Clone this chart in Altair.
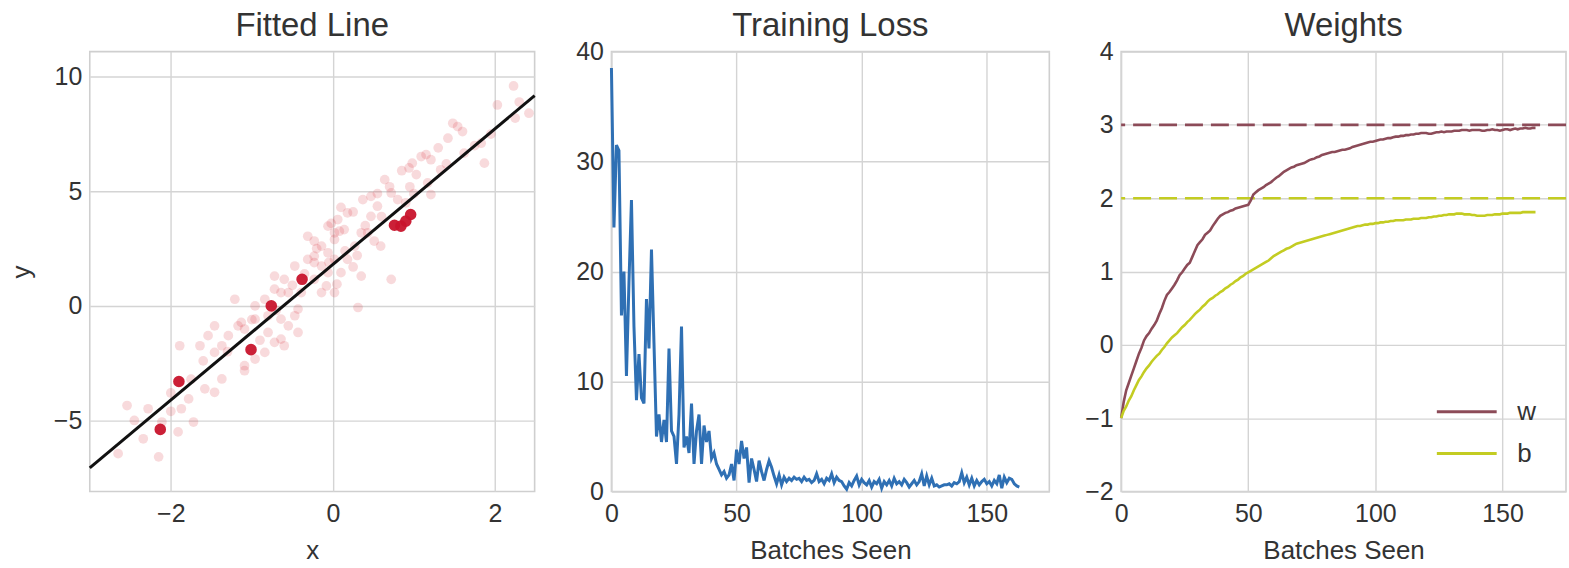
import altair as alt
import pandas as pd

FONT = "Liberation Sans"
TEXT = "#333333"
GRID = "#d4d4d4"
FRAME = "#cfcfcf"
LOSS_COLOR = "#2f70b4"
W_COLOR = "#8c4b58"
B_COLOR = "#c3cc22"

# ---------------- data ----------------
# all training samples (drawn faint)
light_x = [2.23, 2.03, 2.42, 1.54, 1.60, 1.48, 1.42, 1.87, 1.09, 0.98, 0.94, 1.03, 1.21, 1.17, 0.64,
           0.72, 0.55, 0.80, 0.90, 0.47, 0.37, 0.35, 0.14, 0.08, 0.02, -0.06, -0.14, -0.23, -0.31, -0.06,
           0.02, -0.14, 0.10, -0.06, -0.08, 0.02, -0.23, -0.14, 0.72, 0.31, 0.35, -0.47, -0.60, -0.64,
           -0.72, -0.84, -0.96, -1.21, -1.13, -1.17, -1.09, -1.46, -1.54, -1.37, -1.64, -1.89, -1.46,
           -0.80, -0.64, -0.55, -0.47, -0.80, -0.64, -0.72, -0.43, -0.96, -1.09, -1.09, -0.84, -0.60,
           -1.58, -1.46, -1.78, -1.87, -1.72, -2.28, -2.54, -2.34, -2.15, -2.65, -0.72, -0.31, -0.23,
           0.06, 0.18, 0.43, 0.51, 0.59, 0.27, 0.18, 1.21, 1.83, 1.62, 1.33, 0.47, 0.02, -0.23, -0.55,
           -0.39, -0.43, -0.96, -1.29, -1.37, -1.91, -2.11, 2.30, 2.25, 1.95, 1.75, 1.30, 1.15, 0.85,
           0.70, 0.95, 0.55, 0.25, 0.10, -0.02, 0.05, -0.05, 0.15, 0.25, 0.30, -1.60, -1.75, -2.00,
           -1.30, -0.90, -1.00, -0.35, -0.50, -0.70, -0.20, 0.40, 0.60, 1.00, 1.40, -2.45, -2.00]
light_y = [9.60, 8.77, 8.41, 7.83, 7.61, 7.97, 7.32, 6.23, 6.52, 6.23, 6.02, 5.73, 4.86, 5.37, 5.51,
           4.93, 4.35, 4.64, 4.50, 3.91, 4.64, 3.19, 3.33, 3.26, 2.90, 3.48, 2.61, 2.17, 2.03, 2.32,
           2.03, 1.74, 1.45, 1.45, 0.87, 0.58, 1.16, 0.58, 1.16, -0.07, 1.30, 1.74, 1.16, 0.58,
           0.73, 0.29, 0.00, 0.29, -0.72, -0.87, -1.01, -0.87, -1.30, -1.74, -1.74, -1.74, -2.03,
           -0.43, -0.58, -0.87, -0.43, -1.16, -1.45, -1.59, -1.16, -2.32, -2.61, -2.83, -2.03, -1.74,
           -3.62, -3.77, -4.06, -4.49, -5.07, -4.49, -4.35, -5.80, -6.59, -6.45, 1.30, 3.04, 2.83,
           3.77, 4.06, 3.19, 2.83, 2.61, 2.61, 2.03, 6.38, 7.10, 6.67, 5.94, 4.78, 3.19, 1.89, 0.58,
           0.58, -0.14, -0.58, -1.30, -3.19, -5.50, -5.07, 8.90, 8.20, 7.50, 7.00, 6.90, 6.60, 5.90,
           5.20, 5.20, 4.90, 4.10, 4.30, 3.60, 0.95, 1.90, 2.40, 1.70, 2.20, -2.40, -3.20, -3.80,
           -2.00, -1.50, -0.60, 1.40, 0.90, -0.20, 2.50, 3.50, 3.90, 4.90, 6.20, -5.00, -4.60]

# samples of the current batch (drawn solid)
batch_x = [-2.13, -1.90, -1.01, -0.76, -0.38, 0.76, 0.84, 0.90, 0.96]
batch_y = [-5.39, -3.30, -1.91, 0.00, 1.16, 3.52, 3.48, 3.70, 3.99]

# loss per batch
loss = [38.5, 24.0, 31.5, 31.0, 16.0, 20.0, 10.5, 19.0, 26.5, 15.0,
        8.3, 12.5, 8.5, 8.0, 17.5, 13.0, 22.0, 13.5, 5.0, 7.0,
        4.5, 6.5, 4.5, 13.0, 5.5, 5.0, 2.5, 7.0, 15.0, 4.0,
        5.0, 3.5, 8.0, 2.5, 5.5, 7.0, 2.5, 6.0, 4.5, 5.5,
        3.0, 3.5, 2.5, 2.0, 1.5, 1.8, 1.2, 1.5, 2.5, 1.0,
        3.8, 2.5, 4.6, 3.0, 4.0, 0.8, 3.0, 2.0, 0.9, 2.8,
        1.8, 1.0, 2.0, 2.8, 2.2, 1.4, 0.7, 1.5, 0.6, 1.3,
        0.9, 1.2, 1.0, 1.3, 1.1, 1.2, 0.9, 1.3, 1.0, 1.1,
        0.8, 1.0, 1.6, 0.9, 1.1, 0.7, 1.2, 1.0, 1.6, 0.8,
        1.3, 1.0, 0.9, 0.5, 0.2, 0.8, 0.5, 1.0, 1.4, 0.6,
        1.1, 0.8, 0.6, 1.0, 0.4, 0.9, 0.7, 1.1, 0.3, 0.9,
        0.6, 1.0, 0.5, 1.2, 0.7, 0.9, 0.6, 1.1, 0.8, 0.4,
        0.7, 1.0, 0.6, 0.9, 1.6, 0.5, 1.4, 0.6, 1.2, 0.5,
        0.6, 0.4, 0.5, 0.6, 0.6, 0.7, 0.5, 0.8, 0.7, 0.9,
        1.7, 0.8, 1.3, 0.6, 1.2, 0.5, 1.0, 0.6, 0.9, 1.1,
        0.7, 0.9, 0.5, 1.0, 0.7, 1.5, 0.3, 1.3, 0.8, 1.2,
        1.1, 0.7, 0.5, 0.4]

# parameter history per batch
w_hist = [-1.00, -0.78, -0.62, -0.52, -0.42, -0.32, -0.22, -0.12, -0.04, 0.06,
          0.12, 0.16, 0.22, 0.27, 0.33, 0.42, 0.50, 0.60, 0.68, 0.72,
          0.77, 0.82, 0.88, 0.95, 0.99, 1.04, 1.09, 1.12, 1.20, 1.28,
          1.36, 1.40, 1.44, 1.50, 1.53, 1.56, 1.62, 1.67, 1.72, 1.76,
          1.78, 1.80, 1.81, 1.83, 1.84, 1.86, 1.87, 1.88, 1.89, 1.90,
          1.91, 1.97, 2.05, 2.08, 2.11, 2.13, 2.15, 2.18, 2.20, 2.22,
          2.25, 2.28, 2.30, 2.33, 2.36, 2.38, 2.40, 2.42, 2.43, 2.45,
          2.46, 2.47, 2.48, 2.50, 2.52, 2.53, 2.54, 2.56, 2.57, 2.59,
          2.60, 2.61, 2.62, 2.63, 2.63, 2.64, 2.65, 2.66, 2.66, 2.67,
          2.68, 2.70, 2.71, 2.72, 2.73, 2.74, 2.75, 2.76, 2.77, 2.77,
          2.78, 2.79, 2.80, 2.80, 2.81, 2.82, 2.82, 2.83, 2.84, 2.84,
          2.85, 2.85, 2.86, 2.86, 2.87, 2.87, 2.88, 2.88, 2.89, 2.89,
          2.89, 2.88, 2.88, 2.89, 2.90, 2.90, 2.91, 2.90, 2.91, 2.91,
          2.91, 2.92, 2.92, 2.92, 2.93, 2.93, 2.93, 2.92, 2.93, 2.93,
          2.93, 2.93, 2.92, 2.92, 2.93, 2.93, 2.94, 2.93, 2.93, 2.92,
          2.93, 2.94, 2.94, 2.93, 2.94, 2.95, 2.94, 2.95, 2.95, 2.96,
          2.95, 2.95, 2.96, 2.96]
b_hist = [-1.00, -0.90, -0.84, -0.76, -0.70, -0.62, -0.55, -0.48, -0.43, -0.37,
          -0.32, -0.28, -0.23, -0.19, -0.15, -0.12, -0.07, -0.03, 0.02, 0.06,
          0.10, 0.13, 0.16, 0.20, 0.24, 0.27, 0.31, 0.34, 0.38, 0.42,
          0.45, 0.48, 0.52, 0.55, 0.59, 0.62, 0.64, 0.67, 0.69, 0.72,
          0.74, 0.77, 0.79, 0.82, 0.84, 0.87, 0.89, 0.92, 0.94, 0.97,
          0.99, 1.01, 1.03, 1.05, 1.07, 1.09, 1.11, 1.13, 1.15, 1.18,
          1.21, 1.23, 1.25, 1.27, 1.29, 1.31, 1.32, 1.34, 1.36, 1.38,
          1.39, 1.40, 1.41, 1.42, 1.43, 1.44, 1.45, 1.46, 1.47, 1.48,
          1.49, 1.50, 1.51, 1.52, 1.53, 1.54, 1.55, 1.56, 1.57, 1.58,
          1.59, 1.60, 1.61, 1.62, 1.62, 1.63, 1.64, 1.64, 1.65, 1.65,
          1.66, 1.66, 1.67, 1.67, 1.68, 1.68, 1.69, 1.69, 1.70, 1.70,
          1.70, 1.70, 1.71, 1.71, 1.71, 1.72, 1.72, 1.72, 1.73, 1.73,
          1.73, 1.74, 1.74, 1.75, 1.75, 1.76, 1.76, 1.77, 1.77, 1.78,
          1.78, 1.78, 1.79, 1.79, 1.79, 1.78, 1.78, 1.78, 1.77, 1.77,
          1.76, 1.76, 1.76, 1.76, 1.77, 1.77, 1.77, 1.78, 1.78, 1.78,
          1.79, 1.79, 1.79, 1.80, 1.80, 1.80, 1.80, 1.80, 1.81, 1.81,
          1.81, 1.81, 1.81, 1.81]

true_w, true_b = 3.0, 2.0
x_limits = [-3.0, 2.49]
y_limits = [-8.1, 11.1]
batch_limits = [0, 175]

# ---------------- layout ----------------
PLOT_H = 441
W1, W2, W3 = 446, 439, 446
TICK_FS, AXIS_TITLE_FS, TITLE_FS = 25, 26, 33


def title(text, offset):
    return alt.TitleParams(text=text, fontSize=TITLE_FS, font=FONT, color=TEXT, fontWeight="normal",
                           baseline="alphabetic", offset=offset, frame="group", anchor="middle")


def x_axis(values, label):
    return alt.Axis(values=values, title=label, labelFlush=False, labelPadding=10,
                    titleBaseline="alphabetic", titleY=67, format="d")


def y_axis(values, label=None):
    if label is None:
        return alt.Axis(values=values, title=None, format="d")
    return alt.Axis(values=values, title=label, format="d", titleBaseline="alphabetic",
                    titleX=-60, titleY=PLOT_H / 2)


# ---- panel 1: data and fitted line ----
xs1 = alt.Scale(domain=x_limits, nice=False, zero=False)
ys1 = alt.Scale(domain=y_limits, nice=False, zero=False)
ax1x = x_axis([-2, 0, 2], "x")
ax1y = y_axis([-5, 0, 5, 10], "y")

light_df = pd.DataFrame({"x": light_x, "y": light_y})
batch_df = pd.DataFrame({"x": batch_x, "y": batch_y})
fit_df = pd.DataFrame({"x": x_limits,
                       "y": [w_hist[-1] * v + b_hist[-1] for v in x_limits]})

enc1 = dict(x=alt.X("x:Q", scale=xs1, axis=ax1x), y=alt.Y("y:Q", scale=ys1, axis=ax1y))
p1 = alt.layer(
    alt.Chart(light_df).mark_circle(size=95, color="#d8232f", opacity=0.17).encode(**enc1),
    alt.Chart(batch_df).mark_circle(size=135, color="#c8142c", opacity=0.95).encode(**enc1),
    alt.Chart(fit_df).mark_line(color="#111111", strokeWidth=3).encode(**enc1),
).properties(width=W1, height=PLOT_H, title=title("Fitted Line", -17))

# ---- panel 2: training loss ----
loss_df = pd.DataFrame({"batch": list(range(len(loss))), "loss": loss})
p2 = alt.Chart(loss_df).mark_line(color=LOSS_COLOR, strokeWidth=3).encode(
    x=alt.X("batch:Q", scale=alt.Scale(domain=batch_limits, nice=False, zero=False),
            axis=x_axis([0, 50, 100, 150], "Batches Seen")),
    y=alt.Y("loss:Q", scale=alt.Scale(domain=[0, 40], nice=False),
            axis=y_axis([0, 10, 20, 30, 40])),
).properties(width=W2, height=PLOT_H, title=title("Training Loss", -29))

# ---- panel 3: weights ----
hist_df = pd.concat([
    pd.DataFrame({"batch": list(range(len(w_hist))), "value": w_hist, "param": "w"}),
    pd.DataFrame({"batch": list(range(len(b_hist))), "value": b_hist, "param": "b"}),
])
xs3 = alt.Scale(domain=batch_limits, nice=False, zero=False)
ys3 = alt.Scale(domain=[-2, 4], nice=False, zero=False)
ax3x = x_axis([0, 50, 100, 150], "Batches Seen")
ax3y = y_axis([-2, -1, 0, 1, 2, 3, 4])

truth_w = alt.Chart(pd.DataFrame({"value": [true_w]})).mark_rule(
    color=W_COLOR, strokeWidth=2.6, strokeDash=[18, 8]
).encode(y=alt.Y("value:Q", scale=ys3, axis=ax3y))
truth_b = alt.Chart(pd.DataFrame({"value": [true_b]})).mark_rule(
    color=B_COLOR, strokeWidth=2.6, strokeDash=[18, 8]
).encode(y=alt.Y("value:Q", scale=ys3, axis=ax3y))

# the legend is placed from the origin of the whole row (first plot's top-left)
LEGEND_X = (W1 + 75 + W2 + 73) + 316
lines3 = alt.Chart(hist_df).mark_line(strokeWidth=2.6).encode(
    x=alt.X("batch:Q", scale=xs3, axis=ax3x),
    y=alt.Y("value:Q", scale=ys3, axis=ax3y),
    color=alt.Color("param:N", scale=alt.Scale(domain=["w", "b"], range=[W_COLOR, B_COLOR]),
                    legend=alt.Legend(title=None, orient="none", legendX=LEGEND_X, legendY=346,
                                      symbolType="stroke", symbolSize=3600, symbolStrokeWidth=3,
                                      clipHeight=30, rowPadding=12, labelFontSize=26,
                                      labelFont=FONT, labelColor=TEXT, labelOffset=19,
                                      padding=0)),
)
p3 = alt.layer(truth_w, truth_b, lines3).properties(
    width=W3, height=PLOT_H, title=title("Weights", -29))

chart = alt.hconcat(p1, p2, p3, spacing=33).properties(
    padding={"left": 8, "top": 8, "right": 0, "bottom": 0},
    background="white",
).configure_axis(
    labelFont=FONT, labelFontSize=TICK_FS, labelColor=TEXT,
    titleFont=FONT, titleFontSize=AXIS_TITLE_FS, titleColor=TEXT, titleFontWeight="normal",
    grid=True, gridColor=GRID, gridWidth=1.4, domain=False, ticks=False, labelPadding=8,
).configure_view(stroke=FRAME, strokeWidth=1.6)

chart.save("out.html", embed_options={"renderer": "svg", "actions": False})
